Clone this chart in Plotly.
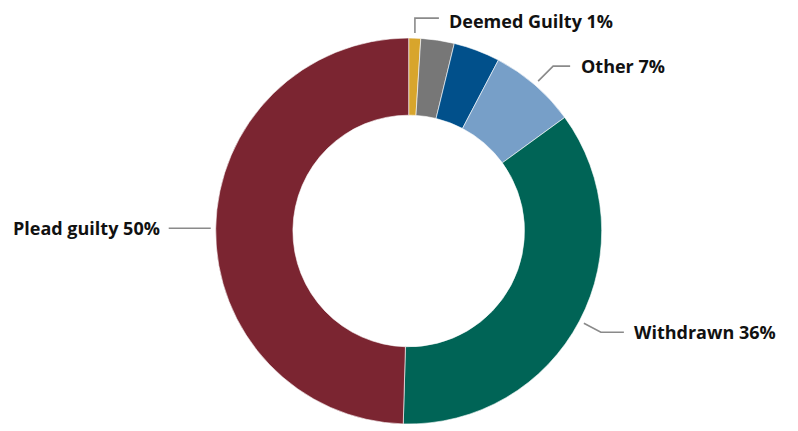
import math
import plotly.graph_objects as go

# ---- data ----
categories = ["Deemed Guilty", "Category 2", "Category 3", "Other", "Withdrawn", "Plead guilty"]
shares = [1.0, 2.8, 3.9, 7.3, 35.5, 49.6]
shown_labels = ["Deemed Guilty 1%", None, None, "Other 7%", "Withdrawn 36%", "Plead guilty 50%"]

# ---- style ----
colors = ["#D8A52C", "#777777", "#01508B", "#779FC8", "#006456", "#7B2531"]
W, H = 798, 431
PAGE_OFFSET = 8  # browser default body margin
CX, CY, R = 408.7 - PAGE_OFFSET, 231.0 - PAGE_OFFSET, 193.0
HOLE = 0.6
LEADER_R = R + 5
# leader elbows: (dx to elbow, dy to elbow, horizontal length, text gap, text dy) in px
leaders = {
    0: (0, -15, 24, 9, 3),
    3: (15, -15, 17, 10, 0),
    4: (17, 9, 23, 9, 0),
    5: (0, 0, -42, -8, 0),
}

fig = go.Figure(go.Pie(
    labels=categories,
    values=shares,
    hole=HOLE,
    sort=False,
    direction="clockwise",
    rotation=0,
    marker=dict(colors=colors, line=dict(color="white", width=0.6)),
    textinfo="none",
    hoverinfo="label+percent",
    domain=dict(x=[(CX - R) / W, (CX + R) / W], y=[1 - (CY + R) / H, 1 - (CY - R) / H]),
    showlegend=False,
))

def px(x, y):
    return x / W, 1 - y / H

total = sum(shares)
cum = 0.0
shapes, annotations = [], []
for i, v in enumerate(shares):
    mid = (cum + v / 2) / total * 2 * math.pi
    cum += v
    if shown_labels[i] is None:
        continue
    ax = CX + LEADER_R * math.sin(mid)
    ay = CY - LEADER_R * math.cos(mid)
    dx, dy, hl, gap, tdy = leaders[i]
    ex, ey = ax + dx, ay + dy
    fx, fy = ex + hl, ey
    p0, p1, p2 = px(ax, ay), px(ex, ey), px(fx, fy)
    shapes.append(dict(
        type="path", xref="paper", yref="paper",
        path=f"M {p0[0]},{p0[1]} L {p1[0]},{p1[1]} L {p2[0]},{p2[1]}",
        line=dict(color="#8A8A8A", width=1.6),
    ))
    tx, ty = px(fx + gap, fy + tdy)
    annotations.append(dict(
        x=tx, y=ty, xref="paper", yref="paper",
        text=f"<b>{shown_labels[i]}</b>", showarrow=False,
        xanchor="left" if gap > 0 else "right", yanchor="middle",
        borderpad=0,
        font=dict(family="Open Sans", size=18, color="#111111"),
    ))

fig.update_layout(
    width=W, height=H,
    margin=dict(l=0, r=0, t=0, b=0),
    paper_bgcolor="white", plot_bgcolor="white",
    shapes=shapes, annotations=annotations,
)

fig.write_html("out.html")
